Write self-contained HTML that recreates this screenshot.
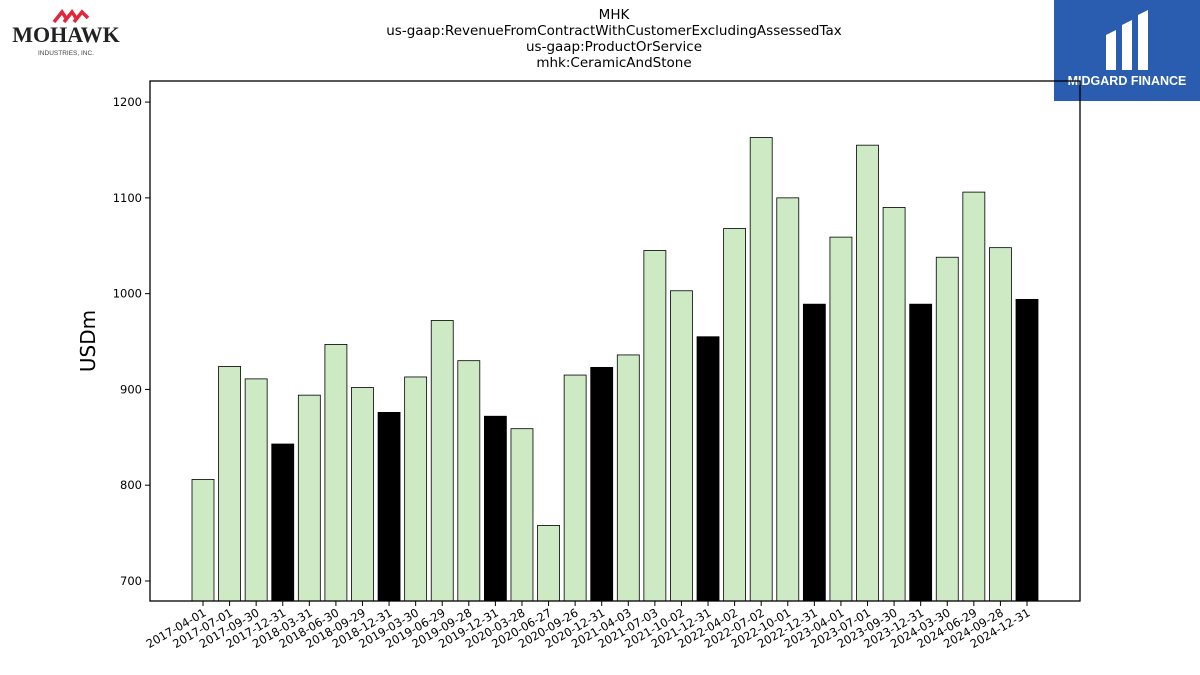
<!DOCTYPE html>
<html><head><meta charset="utf-8"><style>
body{margin:0;background:#fff;font-family:"DejaVu Sans","Liberation Sans",sans-serif}
#wrap{position:relative;width:1200px;height:675px;overflow:hidden}
</style></head><body>
<div id="wrap">
<div style="position:absolute;left:4px;top:4px;width:126px;height:54px">
<svg width="126" height="54"><g stroke="#e0283a" stroke-width="3.5" fill="none"><path d="M50 18 L58 8 L62 14"/><path d="M60 18 L68 8 L72 14"/><path d="M70 18 L78 8 L84 14"/></g>
<text x="62" y="38" text-anchor="middle" font-family="Liberation Serif" font-weight="bold" font-size="22" fill="#222">MOHAWK</text>
<text x="62" y="51" text-anchor="middle" font-family="Liberation Sans" font-size="6.5" fill="#444">INDUSTRIES, INC.</text></svg></div>
<div style="position:absolute;left:1054px;top:0;width:146px;height:101px;background:#2a5db0;color:#fff;text-align:center">
<svg width="146" height="70"><path d="M52 35 L62 30 L62 70 L52 70Z M68 25 L78 20 L78 70 L68 70Z M84 15 L94 10 L94 70 L84 70Z" fill="#fff"/></svg>
<div style="font-family:'Liberation Sans';font-weight:bold;font-size:12.5px;margin-top:0px">MIDGARD FINANCE</div></div>
<div style="position:absolute;left:0;width:1228px;top:7px;text-align:center;font-size:13.5px;line-height:16px;color:#000">MHK<br>us-gaap:RevenueFromContractWithCustomerExcludingAssessedTax<br>us-gaap:ProductOrService<br>mhk:CeramicAndStone</div>
<svg id="chart" width="1200" height="675" style="position:absolute;left:0;top:0"></svg>
</div>
<script>
const categories=["2017-04-01","2017-07-01","2017-09-30","2017-12-31","2018-03-31","2018-06-30","2018-09-29","2018-12-31","2019-03-30","2019-06-29","2019-09-28","2019-12-31","2020-03-28","2020-06-27","2020-09-26","2020-12-31","2021-04-03","2021-07-03","2021-10-02","2021-12-31","2022-04-02","2022-07-02","2022-10-01","2022-12-31","2023-04-01","2023-07-01","2023-09-30","2023-12-31","2024-03-30","2024-06-29","2024-09-28","2024-12-31"];
const values=[806,924,911,843,894,947,902,876,913,972,930,872,859,758,915,923,936,1045,1003,955,1068,1163,1100,989,1059,1155,1090,989,1038,1106,1048,994];
const yTicks=[700,800,900,1000,1100,1200];
const NS="http://www.w3.org/2000/svg";
const svg=document.getElementById('chart');
const L=150,R=1080,T=81,B=601;
const yMin=679.1,yMax=1222;
const y=v=>B-(v-yMin)/(yMax-yMin)*(B-T);
const step=(1027-203)/31;
const x=i=>203+i*step;
function mk(t,a){const e=document.createElementNS(NS,t);for(const k in a)e.setAttribute(k,a[k]);svg.appendChild(e);return e;}
values.forEach((v,i)=>{
 const isQ4=categories[i].endsWith("12-31");
 const r=mk('rect',{x:x(i)-11,y:y(v),width:22,height:B-y(v),fill:isQ4?'#000':'#cdeac5',stroke:'#000','stroke-width':0.8});
 
 
 const tk=mk('line',{x1:x(i),x2:x(i),y1:B,y2:B+5,stroke:'#000'});
 
 
 const t=mk('text',{x:x(i)+4,y:B+14,'text-anchor':'end','font-size':11.5,transform:`rotate(-30 ${x(i)+4} ${B+14})`});
 t.textContent=categories[i];
 
 
});
yTicks.forEach(v=>{
 const l=mk('line',{x1:L-5,x2:L,y1:y(v),y2:y(v),stroke:'#000'});
 
 
 const t=mk('text',{x:L-8,y:y(v)+4,'text-anchor':'end','font-size':11.5});
 t.textContent=v;
 
 
});
const f=mk('rect',{x:L,y:T,width:R-L,height:B-T,fill:'none',stroke:'#000','stroke-width':1.3});


const yt=mk('text',{x:95,y:341,'text-anchor':'middle','font-size':20,transform:'rotate(-90 95 341)'});
yt.textContent='USDm';


</script>
</body></html>
